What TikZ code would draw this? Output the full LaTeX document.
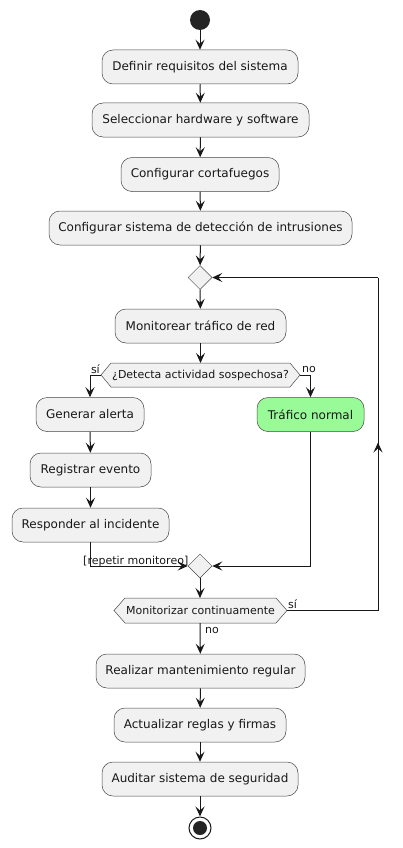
\documentclass[tikz,border=0pt]{standalone}
\usepackage{fontspec}
\setmainfont{DejaVu Sans}
\usetikzlibrary{arrows.meta,backgrounds,decorations.markings}
\definecolor{boxfill}{HTML}{F1F1F1}
\definecolor{ink}{HTML}{181818}
\definecolor{okgreen}{HTML}{98FB98}
\tikzset{
  act/.style={draw=ink!80, line width=0.5pt, fill=boxfill, rounded corners=11pt,
    minimum height=34pt, inner sep=0pt, font=\fontsize{12}{14}\selectfont, text=ink},
  dectext/.style={inner sep=0pt, font=\fontsize{11}{13}\selectfont, text=ink},
  lbl/.style={inner sep=0pt, font=\fontsize{11}{13}\selectfont, text=ink},
  merge/.style={draw=ink!80, line width=0.5pt, fill=boxfill, diamond, minimum size=24pt, inner sep=0pt},
  conn/.style={draw=ink, line width=1pt, -{Stealth[length=10pt,width=9pt,inset=4pt]}},
  plain/.style={draw=ink, line width=1pt},
}
\usetikzlibrary{shapes.geometric}
\begin{document}
\begin{tikzpicture}[x=1pt,y=-1pt]
\useasboundingbox (0,0) rectangle (403,848);
% start
\node[circle, fill=ink!95, minimum size=20pt, inner sep=0pt] (start) at (200,20) {};
\node[act, minimum width=196pt] (b1) at (200,67) {Definir requisitos del sistema};
\node[act, minimum width=217pt] (b2) at (200.5,120) {Seleccionar hardware y software};
\node[act, minimum width=158pt] (b3) at (200,174.5) {Configurar cortafuegos};
\node[act, minimum width=303pt] (b4) at (200.5,228) {Configurar sistema de detección de intrusiones};
\node[merge] (m1) at (200,277.5) {};
\node[act, minimum width=171pt] (mon) at (200.5,326) {Monitorear tráfico de red};
% decision 1
\node[dectext, minimum width=179pt, minimum height=24pt] (d1) at (200.5,375) {¿Detecta actividad sospechosa?};
\coordinate (d1w) at (101,375);
\coordinate (d1e) at (300,375);
\begin{scope}[on background layer]
\filldraw[draw=ink!80, line width=0.5pt, fill=boxfill] (d1w) -- (111,363) -- (290,363) -- (d1e) -- (290,387) -- (111,387) -- cycle;
\end{scope}
\node[act, minimum width=108pt] (gen) at (90,414.5) {Generar alerta};
\node[act, minimum width=107pt, fill=okgreen] (norm) at (310.5,414.5) {Tráfico normal};
\node[act, minimum width=121pt] (reg) at (90.5,470) {Registrar evento};
\node[act, minimum width=157pt] (resp) at (90.5,525) {Responder al incidente};
\node[merge] (m2) at (200,566) {};
% decision 2
\node[dectext, minimum width=152pt, minimum height=25pt] (d2) at (200.5,610.5) {Monitorizar continuamente};
\coordinate (d2w) at (114,610.5);
\coordinate (d2e) at (287,610.5);
\begin{scope}[on background layer]
\filldraw[draw=ink!80, line width=0.5pt, fill=boxfill] (d2w) -- (125,598) -- (276,598) -- (d2e) -- (276,623) -- (125,623) -- cycle;
\end{scope}
\node[act, minimum width=209pt] (real) at (200.5,671) {Realizar mantenimiento regular};
\node[act, minimum width=172pt] (actu) at (200,725) {Actualizar reglas y firmas};
\node[act, minimum width=196pt] (aud) at (200,779) {Auditar sistema de seguridad};
\node[circle, draw=ink, line width=1pt, fill=white, minimum size=22pt, inner sep=0pt] (stop) at (200,828) {};
\node[circle, fill=ink!95, minimum size=14pt, inner sep=0pt] (stopin) at (stop.center) {};
% connectors
\draw[conn] (start) -- (b1);
\draw[conn] (b1) -- (b2);
\draw[conn] (b2) -- (b3);
\draw[conn] (b3) -- (b4);
\draw[conn] (b4) -- (m1);
\draw[conn] (m1) -- (mon);
\draw[conn] (mon) -- (d1.north |- 0,363);
\draw[conn] (d1w) -| (gen.north);
\draw[conn] (d1e) -| (norm.north);
\draw[conn] (gen) -- (reg);
\draw[conn] (reg) -- (resp);
\draw[conn] (resp.south) |- (m2.west);
\draw[conn] (norm.south) |- (m2.east);
\draw[conn] (m2) -- (200,598);
\coordinate (lp1) at (378,610.5);
\coordinate (lp2) at (378,277.5);
\draw[plain, postaction={decorate, decoration={markings, mark=at position 259pt with {\arrow{Stealth[length=10pt,width=9pt,inset=4pt]}}}}]
  (d2e) -- (lp1) -- (lp2);
\draw[conn] (lp2) -- (m1.east);
\draw[conn] (200,623) -- (real);
\draw[conn] (real) -- (actu);
\draw[conn] (actu) -- (aud);
\draw[conn] (aud) -- (stop);
% labels
\node[lbl, anchor=south east] (l1) at (100,374) {sí};
\node[lbl, anchor=south west] (l2) at (302,373) {no};
\node[lbl, anchor=base east] (l3) at (188.5,564) {[repetir monitoreo]};
\node[lbl, anchor=south west] (l4) at (288,609) {sí};
\node[lbl, anchor=south west] (l5) at (205,634) {no};
\end{tikzpicture}
\end{document}
